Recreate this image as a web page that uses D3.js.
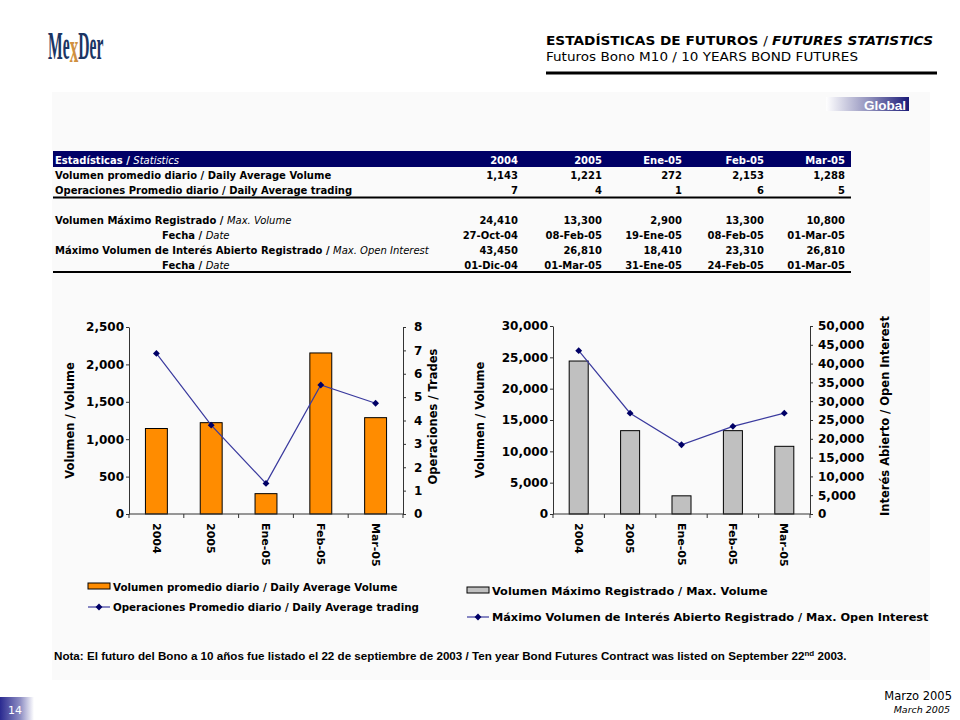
<!DOCTYPE html>
<html>
<head>
<meta charset="utf-8">
<script src="https://cdn.jsdelivr.net/npm/d3@7"></script>
<style>
  body { margin: 0; background: #fff; }
  svg { display: block; }
</style>
</head>
<body>
<div id="chart"></div>
<script>
// ---- data ----
const categories = ["2004", "2005", "Ene-05", "Feb-05", "Mar-05"];
const avgVolume = [1143, 1221, 272, 2153, 1288];
const avgTrades = [6.87, 3.8, 1.31, 5.52, 4.74];
const maxVolume = [24410, 13300, 2900, 13300, 10800];
const maxVolumeDate = ["27-Oct-04", "08-Feb-05", "19-Ene-05", "08-Feb-05", "01-Mar-05"];
const maxOpenInterest = [43450, 26810, 18410, 23310, 26810];
const maxOpenInterestDate = ["01-Dic-04", "01-Mar-05", "31-Ene-05", "24-Feb-05", "01-Mar-05"];
const volTicks = [0, 500, 1000, 1500, 2000, 2500];
const tradeTicks = [0, 1, 2, 3, 4, 5, 6, 7, 8];
const maxVolTicks = [0, 5000, 10000, 15000, 20000, 25000, 30000];
const oiTicks = [0, 5000, 10000, 15000, 20000, 25000, 30000, 35000, 40000, 45000, 50000];

const W = 960, H = 720;
const NAVY = "#000066";
const fmt = d3.format(",");
const VERD = "DejaVu Sans, Verdana, sans-serif";
const ARIAL = "Liberation Sans, Arial, sans-serif";

const svg = d3.select("#chart").append("svg").attr("width", W).attr("height", H);
const defs = svg.append("defs");

// panel
svg.append("rect").attr("x", 52).attr("y", 92).attr("width", 878).attr("height", 588).attr("fill", "#fafafa");

// ---- header ----
const logo = svg.append("text")
  .attr("transform", "translate(48,59) scale(0.39,1)")
  .attr("font-family", "Liberation Serif, serif")
  .attr("font-weight", "bold")
  .attr("font-size", 40);
logo.append("tspan").attr("fill", "#1b3564").text("Me");
logo.append("tspan").attr("fill", "#d09040").attr("font-size", 44).attr("dy", 3).text("x");
logo.append("tspan").attr("fill", "#1b3564").attr("dy", -3).text("Der");

const title = svg.append("text").attr("x", 546).attr("y", 45)
  .attr("font-family", VERD).attr("font-size", 11.5).attr("fill", "#000")
  .attr("textLength", 387).attr("lengthAdjust", "spacingAndGlyphs");
title.append("tspan").attr("font-weight", "bold").text("ESTADÍSTICAS DE FUTUROS ");
title.append("tspan").text("/ ");
title.append("tspan").attr("font-weight", "bold").attr("font-style", "italic").text("FUTURES STATISTICS");

svg.append("text").attr("x", 546).attr("y", 61)
  .attr("font-family", VERD).attr("font-size", 11.5).attr("fill", "#000")
  .attr("textLength", 312).attr("lengthAdjust", "spacingAndGlyphs")
  .text("Futuros Bono M10 / 10 YEARS BOND FUTURES");

svg.append("rect").attr("x", 546).attr("y", 71.5).attr("width", 391).attr("height", 3).attr("fill", "#000");

// Global tag
const gg = defs.append("linearGradient").attr("id", "gGlobal");
gg.append("stop").attr("offset", "0%").attr("stop-color", "#ffffff");
gg.append("stop").attr("offset", "55%").attr("stop-color", "#8a8ab8");
gg.append("stop").attr("offset", "100%").attr("stop-color", "#1a1a78");
svg.append("rect").attr("x", 826).attr("y", 97).attr("width", 83).attr("height", 14).attr("fill", "url(#gGlobal)");
svg.append("text").attr("x", 906).attr("y", 109.5).attr("text-anchor", "end")
  .attr("font-family", ARIAL).attr("font-weight", "bold").attr("font-size", 13.5).attr("fill", "#fff").text("Global");

// ---- table ----
const colRight = [518, 602, 682, 764, 845];
const tbl = svg.append("g").attr("font-family", VERD).attr("font-weight", "bold").attr("font-size", 10);
tbl.append("rect").attr("x", 53).attr("y", 151).attr("width", 798).attr("height", 16).attr("fill", NAVY);
const th = tbl.append("text").attr("x", 55).attr("y", 163.5).attr("fill", "#fff");
th.append("tspan").text("Estadísticas / ");
th.append("tspan").attr("font-weight", "normal").attr("font-style", "italic").text("Statistics");
categories.forEach((c, i) => {
  tbl.append("text").attr("x", colRight[i]).attr("y", 163.5).attr("text-anchor", "end").attr("fill", "#fff").text(c);
});

const rows = [
  { y: 179, label: ["Volumen promedio diario / Daily Average Volume"], x: 55, vals: avgVolume.map(fmt) },
  { y: 193.5, label: ["Operaciones Promedio diario / Daily Average trading"], x: 55, vals: avgTrades.map(v => Math.round(v)) },
  { y: 223.5, label: ["Volumen Máximo Registrado / ", "Max. Volume"], x: 55, vals: maxVolume.map(fmt) },
  { y: 238.5, label: ["Fecha / ", "Date"], x: 162, vals: maxVolumeDate },
  { y: 254, label: ["Máximo Volumen de Interés Abierto Registrado / ", "Max. Open Interest"], x: 55, vals: maxOpenInterest.map(fmt) },
  { y: 268.5, label: ["Fecha / ", "Date"], x: 162, vals: maxOpenInterestDate }
];
rows.forEach(r => {
  const t = tbl.append("text").attr("x", r.x).attr("y", r.y).attr("fill", "#000");
  t.append("tspan").text(r.label[0]);
  if (r.label[1]) t.append("tspan").attr("font-weight", "normal").attr("font-style", "italic").text(r.label[1]);
  r.vals.forEach((v, i) => {
    tbl.append("text").attr("x", colRight[i]).attr("y", r.y).attr("text-anchor", "end").attr("fill", "#000").text(v);
  });
});
tbl.append("rect").attr("x", 53).attr("y", 196.5).attr("width", 798).attr("height", 2).attr("fill", "#000");
tbl.append("rect").attr("x", 53).attr("y", 271).attr("width", 798).attr("height", 2).attr("fill", "#000");

// ---- combo chart ----
function comboChart(o) {
  const g = svg.append("g").attr("font-family", VERD).attr("font-weight", "bold");
  const x = d3.scaleBand().domain(categories).range([o.x0, o.x1]);
  const yL = d3.scaleLinear().domain([0, d3.max(o.leftTicks)]).range([o.yb, o.yt]);
  const yR = d3.scaleLinear().domain([0, d3.max(o.rightTicks)]).range([o.yb, o.yt]);
  const bw = x.bandwidth() * o.barRatio;

  g.selectAll("rect.bar").data(o.bars).join("rect")
    .attr("class", "bar")
    .attr("x", (d, i) => x(categories[i]) + (x.bandwidth() - bw) / 2)
    .attr("y", d => yL(d))
    .attr("width", bw)
    .attr("height", d => yL(0) - yL(d))
    .attr("fill", o.barColor)
    .attr("stroke", "#000")
    .attr("stroke-width", 1);

  const axL = g.append("g").attr("transform", `translate(${o.x0},0)`)
    .call(d3.axisLeft(yL).tickValues(o.leftTicks).tickFormat(fmt).tickSize(3).tickPadding(2).tickSizeOuter(0));
  const axR = g.append("g").attr("transform", `translate(${o.x1},0)`)
    .call(d3.axisRight(yR).tickValues(o.rightTicks).tickFormat(fmt).tickSize(3).tickPadding(o.rPad).tickSizeOuter(0));
  [axL, axR].forEach(a => {
    a.attr("font-family", VERD).attr("font-size", 12).attr("font-weight", "bold");
    a.selectAll("path, line").attr("stroke", "#333");
    a.selectAll("text").attr("fill", "#000");
  });

  // category axis
  g.append("line").attr("x1", o.x0).attr("x2", o.x1).attr("y1", o.yb).attr("y2", o.yb).attr("stroke", "#333");
  const bounds = categories.map(c => x(c)).concat([o.x1]);
  g.selectAll("line.xt").data(bounds).join("line").attr("class", "xt")
    .attr("x1", d => d).attr("x2", d => d).attr("y1", o.yb).attr("y2", o.yb + 4).attr("stroke", "#333");
  g.selectAll("text.xl").data(categories).join("text").attr("class", "xl")
    .attr("transform", d => `translate(${x(d) + x.bandwidth() / 2},${o.yb + 9}) rotate(90)`)
    .attr("dy", "0.35em").attr("font-size", 11).attr("fill", "#000").text(d => d);

  // line series
  const line = d3.line().x((d, i) => x(categories[i]) + x.bandwidth() / 2).y(d => yR(d));
  g.append("path").attr("d", line(o.line)).attr("fill", "none").attr("stroke", "#3a3a9e").attr("stroke-width", 1.2);
  g.selectAll("path.mk").data(o.line).join("path").attr("class", "mk")
    .attr("transform", (d, i) => `translate(${x(categories[i]) + x.bandwidth() / 2},${yR(d)})`)
    .attr("d", d3.symbol(d3.symbolDiamond2, 30)).attr("fill", NAVY);

  // axis titles
  const cy = (o.yt + o.yb) / 2;
  g.append("text").attr("transform", `translate(${o.lTitleX},${cy}) rotate(-90)`).attr("text-anchor", "middle")
    .attr("font-size", 11.5).attr("fill", "#000").text(o.lTitle);
  g.append("text").attr("transform", `translate(${o.rTitleX},${cy - 4}) rotate(-90)`).attr("text-anchor", "middle")
    .attr("font-size", 11.5).attr("fill", "#000").text(o.rTitle);

  // legend
  const lg = g.append("g").attr("font-size", o.legFont).attr("fill", "#000");
  lg.append("rect").attr("x", o.legX).attr("y", o.legY - 4).attr("width", 22).attr("height", 6)
    .attr("fill", o.barColor).attr("stroke", "#000");
  lg.append("text").attr("x", o.legX + 25).attr("y", o.legY + 3.5).text(o.barLabel);
  const ly = o.legY + o.legGap;
  lg.append("line").attr("x1", o.legX).attr("x2", o.legX + 22).attr("y1", ly).attr("y2", ly).attr("stroke", "#3a3a9e").attr("stroke-width", 1.2);
  lg.append("path").attr("transform", `translate(${o.legX + 11},${ly})`).attr("d", d3.symbol(d3.symbolDiamond2, 30)).attr("fill", NAVY);
  lg.append("text").attr("x", o.legX + 25).attr("y", ly + 4).text(o.lineLabel);
}

comboChart({
  x0: 129, x1: 403, yt: 327, yb: 514, barRatio: 0.4, barColor: "#ff8c00",
  bars: avgVolume, line: avgTrades, leftTicks: volTicks, rightTicks: tradeTicks, rPad: 8,
  lTitle: "Volumen / Volume", lTitleX: 74, rTitle: "Operaciones / Trades", rTitleX: 437,
  legX: 88, legY: 587, legGap: 20, legFont: 10.3,
  barLabel: "Volumen promedio diario / Daily Average Volume",
  lineLabel: "Operaciones Promedio diario / Daily Average trading"
});

comboChart({
  x0: 553, x1: 810, yt: 326, yb: 514, barRatio: 0.37, barColor: "#c0c0c0",
  bars: maxVolume, line: maxOpenInterest, leftTicks: maxVolTicks, rightTicks: oiTicks, rPad: 5,
  lTitle: "Volumen / Volume", lTitleX: 484, rTitle: "Interés Abierto / Open Interest", rTitleX: 889,
  legX: 467, legY: 591, legGap: 26, legFont: 11.3,
  barLabel: "Volumen Máximo Registrado / Max. Volume",
  lineLabel: "Máximo Volumen de Interés Abierto Registrado / Max. Open Interest"
});

// ---- footnote ----
const note = svg.append("text").attr("x", 54).attr("y", 660)
  .attr("font-family", ARIAL).attr("font-weight", "bold").attr("font-size", 11.63).attr("fill", "#000");
note.append("tspan").text("Nota: El futuro del Bono a 10 años fue listado el 22 de septiembre de 2003 / Ten year Bond Futures Contract was listed on September 22");
note.append("tspan").attr("font-size", 8).attr("dy", -4).text("nd");
note.append("tspan").attr("dy", 4).text(" 2003.");

// ---- footer ----
const fg = defs.append("linearGradient").attr("id", "gPage");
fg.append("stop").attr("offset", "0%").attr("stop-color", "#2a2a90");
fg.append("stop").attr("offset", "60%").attr("stop-color", "#8f8fc4");
fg.append("stop").attr("offset", "100%").attr("stop-color", "#ffffff");
svg.append("rect").attr("x", 0).attr("y", 697).attr("width", 34).attr("height", 23).attr("fill", "url(#gPage)");
svg.append("text").attr("x", 8).attr("y", 714).attr("font-family", VERD).attr("font-size", 11).attr("fill", "#fff").text("14");
svg.append("text").attr("x", 952).attr("y", 700).attr("text-anchor", "end")
  .attr("font-family", VERD).attr("font-size", 11.5).attr("fill", "#000").text("Marzo 2005");
svg.append("text").attr("x", 950).attr("y", 713).attr("text-anchor", "end")
  .attr("font-family", VERD).attr("font-style", "italic").attr("font-size", 9.5).attr("fill", "#000").text("March 2005");
</script>
</body>
</html>
